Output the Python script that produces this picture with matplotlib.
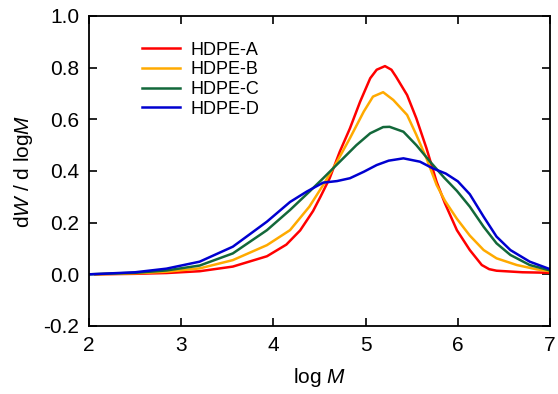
import numpy as np
import matplotlib.pyplot as plt

plt.rcParams['font.family'] = ['Liberation Sans', 'DejaVu Sans']
plt.rcParams['mathtext.fontset'] = 'custom'
plt.rcParams['mathtext.it'] = 'Liberation Sans:italic'
plt.rcParams['mathtext.rm'] = 'Liberation Sans'

labels = ['HDPE-A', 'HDPE-B', 'HDPE-C', 'HDPE-D']
colors = ['#ff0000', '#ffaa00', '#13683a', '#0000d0']

# values (log M, dW/dlogM)
xA = [2.07, 2.5, 2.84, 3.2, 3.56, 3.93, 4.14, 4.29, 4.43, 4.51, 4.61, 4.72, 4.83, 4.94, 5.05, 5.12,
      5.21, 5.28, 5.33, 5.45, 5.55, 5.66, 5.77, 5.86, 5.99, 6.13, 6.26, 6.34, 6.42, 6.7, 7.0]
yA = [0.0, 0.002, 0.005, 0.012, 0.03, 0.07, 0.115, 0.17, 0.245, 0.3, 0.372, 0.475, 0.565, 0.668, 0.759, 0.792,
      0.806, 0.792, 0.765, 0.694, 0.604, 0.488, 0.358, 0.275, 0.171, 0.094, 0.036, 0.02, 0.014, 0.008, 0.006]

xB = [2.07, 2.5, 2.84, 3.2, 3.56, 3.93, 4.18, 4.39, 4.54, 4.69, 4.83, 4.98, 5.08, 5.19, 5.3, 5.45,
      5.55, 5.66, 5.77, 5.86, 5.99, 6.13, 6.28, 6.42, 6.64, 6.86, 7.0]
yB = [0.0, 0.004, 0.01, 0.023, 0.055, 0.113, 0.171, 0.262, 0.346, 0.436, 0.527, 0.63, 0.688, 0.705, 0.675, 0.617,
      0.54, 0.449, 0.346, 0.285, 0.215, 0.15, 0.094, 0.062, 0.036, 0.019, 0.012]

xC = [2.0, 2.5, 2.84, 3.2, 3.56, 3.93, 4.18, 4.39, 4.54, 4.72, 4.9, 5.05, 5.19, 5.26, 5.41, 5.55,
      5.7, 5.85, 5.99, 6.13, 6.28, 6.42, 6.57, 6.78, 7.0]
yC = [0.0, 0.006, 0.015, 0.034, 0.081, 0.171, 0.249, 0.32, 0.372, 0.436, 0.5, 0.546, 0.57, 0.571, 0.552, 0.5,
      0.436, 0.375, 0.323, 0.262, 0.184, 0.12, 0.075, 0.036, 0.015]

xD = [2.0, 2.5, 2.84, 3.2, 3.56, 3.93, 4.18, 4.36, 4.54, 4.69, 4.83, 4.98, 5.12, 5.25, 5.41, 5.59,
      5.73, 5.87, 6.0, 6.13, 6.28, 6.42, 6.57, 6.78, 7.0]
yD = [0.0, 0.008, 0.022, 0.049, 0.107, 0.204, 0.28, 0.32, 0.355, 0.361, 0.372, 0.397, 0.423, 0.44, 0.449, 0.436,
      0.41, 0.39, 0.36, 0.31, 0.223, 0.146, 0.094, 0.049, 0.02]

xs = [xA, xB, xC, xD]
ys = [yA, yB, yC, yD]

fig = plt.figure(figsize=(5.58, 3.94), dpi=100)
ax = fig.add_axes([0.1595, 0.1726, 0.8262, 0.7868])

for x, y, c, lab in zip(xs, ys, colors, labels):
    ax.plot(x, y, color=c, lw=1.8, label=lab)

ax.set_xlim(2, 7)
ax.set_ylim(-0.2, 1.0)
ax.set_xticks([2, 3, 4, 5, 6, 7])
ax.set_yticks(np.arange(-0.2, 1.01, 0.2))
ax.set_yticklabels(['-0.2', '0.0', '0.2', '0.4', '0.6', '0.8', '1.0'])
ax.tick_params(direction='in', length=6, width=1.2, labelsize=15, top=True, right=True, pad=7)
for s in ax.spines.values():
    s.set_linewidth(1.3)

ax.set_xlabel(r'log $\it{M}$', fontsize=15, labelpad=8)
ax.set_ylabel(r'd$\it{W}$ / d log$\it{M}$', fontsize=15, labelpad=6)

ax.legend(loc='upper left', bbox_to_anchor=(0.08, 0.97), frameon=False, fontsize=13,
          handlelength=2.1, handletextpad=0.6, labelspacing=0.15)

fig.savefig('out.png', dpi=100)
